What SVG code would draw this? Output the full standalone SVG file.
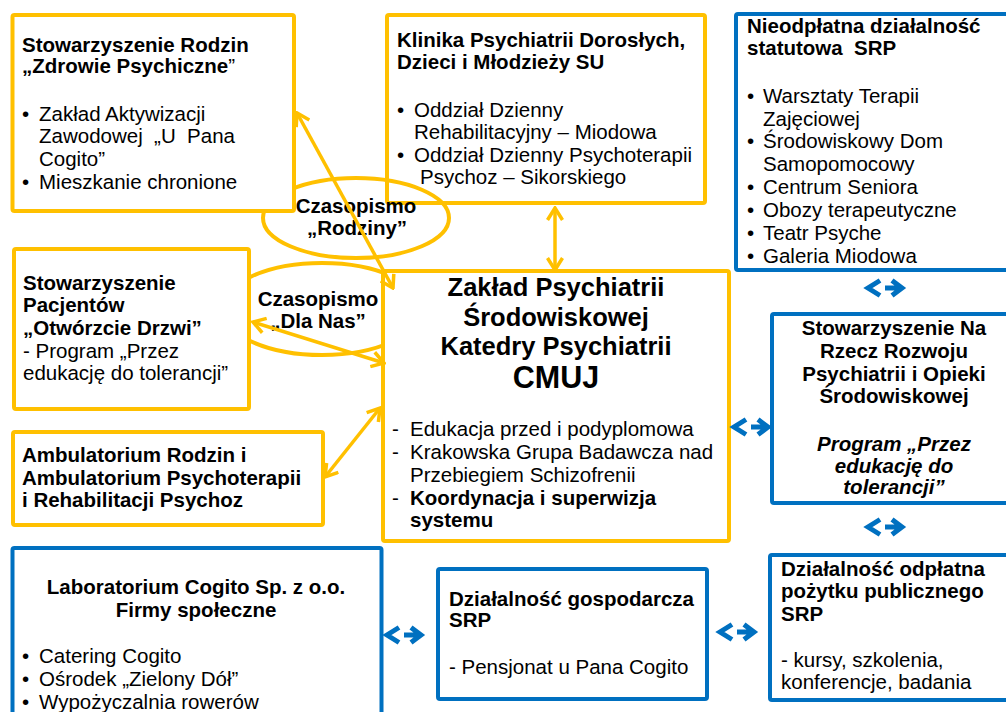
<svg xmlns="http://www.w3.org/2000/svg" width="1006" height="712" viewBox="0 0 1006 712">
<style>
text{font-family:"Liberation Sans",Arial,sans-serif;font-size:20.5px;fill:#000}
.t{font-weight:bold}
.c{text-anchor:middle}
.i{font-style:italic}
.y{fill:#fff;stroke:#FFC000;stroke-width:4}
.yn{fill:none;stroke:#FFC000;stroke-width:4}
.b{fill:#fff;stroke:#0070C0;stroke-width:4}
.arr{fill:none;stroke:#FFC000;stroke-width:3.5;marker-start:url(#ah);marker-end:url(#ah)}
.lr{fill:none;stroke:#0070C0;stroke-width:5}
.pre{white-space:pre}
</style>
<defs>
<marker id="ah" viewBox="0 0 16 18" refX="14" refY="9" markerWidth="16" markerHeight="18" markerUnits="userSpaceOnUse" orient="auto-start-reverse">
<path d="M2,1.5 L14,9 L2,16.5" fill="none" stroke="#FFC000" stroke-width="3.5"/>
</marker>
<g id="lr" class="lr">
<path d="M-5,-7.5 L-17,0 L-5,7.5"/>
<path d="M0,0 L15,0 M7,-7.5 L17,0 L7,7.5"/>
</g>
</defs>
<rect width="1006" height="712" fill="#fff"/>

<g id="klinika">
<rect class="y" x="387" y="15" width="318" height="188" rx="2"/>
<text class="t" x="397" y="47">Klinika Psychiatrii Dorosłych,</text>
<text class="t" x="397" y="69">Dzieci i Młodzieży SU</text>
<text x="397" y="117">•</text><text x="414" y="117">Oddział Dzienny</text>
<text x="414" y="139">Rehabilitacyjny – Miodowa</text>
<text x="397" y="162">•</text><text x="414" y="162">Oddział Dzienny Psychoterapii</text>
<text x="420" y="184">Psychoz – Sikorskiego</text>
</g>

<g id="czasopismo-rodziny">
<ellipse class="yn" cx="356" cy="218" rx="93" ry="40"/>
</g>
<g id="czasopismo-dla-nas">
<ellipse class="yn" cx="322" cy="309" rx="100" ry="46"/>
</g>

<g id="stow-rodzin">
<rect class="y" x="12.5" y="15" width="281.5" height="196" rx="2"/>
<text class="t" x="22" y="52">Stowarzyszenie Rodzin</text>
<text x="22" y="73"><tspan class="t">„Zdrowie Psychiczne</tspan>”</text>
<text x="22" y="121">•</text><text x="39" y="121">Zakład Aktywizacji</text>
<text x="39" y="143" class="pre">Zawodowej  „U  Pana</text>
<text x="39" y="166">Cogito”</text>
<text x="22" y="189">•</text><text x="39" y="189">Mieszkanie chronione</text>
</g>

<g id="nieodplatna">
<rect class="b" x="736" y="14" width="280" height="256" rx="2"/>
<text class="t" x="747" y="33">Nieodpłatna działalność</text>
<text class="t pre" x="747" y="55">statutowa  SRP</text>
<text x="747" y="103">•</text><text x="763" y="103">Warsztaty Terapii</text>
<text x="763" y="126">Zajęciowej</text>
<text x="747" y="148">•</text><text x="763" y="148">Środowiskowy Dom</text>
<text x="763" y="171">Samopomocowy</text>
<text x="747" y="194">•</text><text x="763" y="194">Centrum Seniora</text>
<text x="747" y="217">•</text><text x="763" y="217">Obozy terapeutyczne</text>
<text x="747" y="240">•</text><text x="763" y="240">Teatr Psyche</text>
<text x="747" y="263">•</text><text x="763" y="263">Galeria Miodowa</text>
</g>

<g id="stow-pacjentow">
<rect class="y" x="14" y="249" width="235" height="160" rx="2"/>
<text class="t" x="23" y="290">Stowarzyszenie</text>
<text class="t" x="23" y="312">Pacjentów</text>
<text class="t" x="23" y="335">„Otwórzcie Drzwi”</text>
<text x="23" y="358">- Program „Przez</text>
<text x="23" y="380">edukację do tolerancji”</text>
</g>

<g id="ambulatorium">
<rect class="y" x="13" y="432" width="310" height="93" rx="2"/>
<text class="t" x="22" y="462">Ambulatorium Rodzin i</text>
<text class="t" x="22" y="485">Ambulatorium Psychoterapii</text>
<text class="t" x="22" y="507">i Rehabilitacji Psychoz</text>
</g>

<g id="zaklad">
<rect class="y" x="383" y="271" width="346" height="270" rx="2"/>
<text class="t c" x="556" y="296" style="font-size:25.5px">Zakład Psychiatrii</text>
<text class="t c" x="556" y="326" style="font-size:25.5px">Środowiskowej</text>
<text class="t c" x="556" y="355" style="font-size:25.5px">Katedry Psychiatrii</text>
<text class="t c" x="556" y="388" style="font-size:30.5px">CMUJ</text>
<text x="392" y="436">-</text><text x="410" y="436">Edukacja przed i podyplomowa</text>
<text x="392" y="459">-</text><text x="410" y="459">Krakowska Grupa Badawcza nad</text>
<text x="410" y="482">Przebiegiem Schizofrenii</text>
<text x="392" y="505">-</text><text class="t" x="410" y="505">Koordynacja i superwizja</text>
<text class="t" x="410" y="527">systemu</text>
</g>

<g id="stow-na-rzecz">
<rect class="b" x="772" y="314" width="240" height="189" rx="2"/>
<text class="t c" x="894" y="335">Stowarzyszenie Na</text>
<text class="t c" x="894" y="358">Rzecz Rozwoju</text>
<text class="t c" x="894" y="381">Psychiatrii i Opieki</text>
<text class="t c" x="894" y="403">Środowiskowej</text>
<text class="t i c" x="894" y="451">Program „Przez</text>
<text class="t i c" x="894" y="473">edukację do</text>
<text class="t i c" x="894" y="494">tolerancji”</text>
</g>

<g id="laboratorium">
<rect class="b" x="12.5" y="548" width="369" height="172" rx="2"/>
<text class="t c" x="196" y="594">Laboratorium Cogito Sp. z o.o.</text>
<text class="t c" x="196" y="617">Firmy społeczne</text>
<text x="22" y="663">•</text><text x="39" y="663">Catering Cogito</text>
<text x="22" y="686">•</text><text x="39" y="686">Ośrodek „Zielony Dół”</text>
<text x="22" y="709">•</text><text x="39" y="709">Wypożyczalnia rowerów</text>
</g>

<g id="gospodarcza">
<rect class="b" x="438" y="569" width="269" height="130" rx="2"/>
<text class="t" x="449" y="606">Działalność gospodarcza</text>
<text class="t" x="449" y="627">SRP</text>
<text x="449" y="674">- Pensjonat u Pana Cogito</text>
</g>

<g id="odplatna">
<rect class="b" x="770" y="555" width="242" height="145" rx="2"/>
<text class="t" x="781" y="576">Działalność odpłatna</text>
<text class="t" x="781" y="598">pożytku publicznego</text>
<text class="t" x="781" y="621">SRP</text>
<text x="781" y="667">- kursy, szkolenia,</text>
<text x="781" y="689">konferencje, badania</text>
</g>

<g id="ellipse-labels">
<text class="t c" x="356" y="213">Czasopismo</text>
<text class="t c" x="357" y="235">„Rodziny”</text>
<text class="t c" x="318" y="306">Czasopismo</text>
<text class="t c" x="318" y="328">„Dla Nas”</text>
</g>

<g id="connectors">
<line class="arr" x1="297" y1="113" x2="393" y2="288"/>
<line class="arr" x1="555" y1="208" x2="555" y2="270"/>
<line class="arr" x1="253" y1="322" x2="384" y2="363"/>
<line class="arr" x1="325" y1="477" x2="380" y2="408"/>
<use href="#lr" x="885" y="288"/>
<use href="#lr" x="751" y="427"/>
<use href="#lr" x="885" y="527"/>
<use href="#lr" x="404" y="635"/>
<use href="#lr" x="737" y="632"/>
</g>
</svg>
